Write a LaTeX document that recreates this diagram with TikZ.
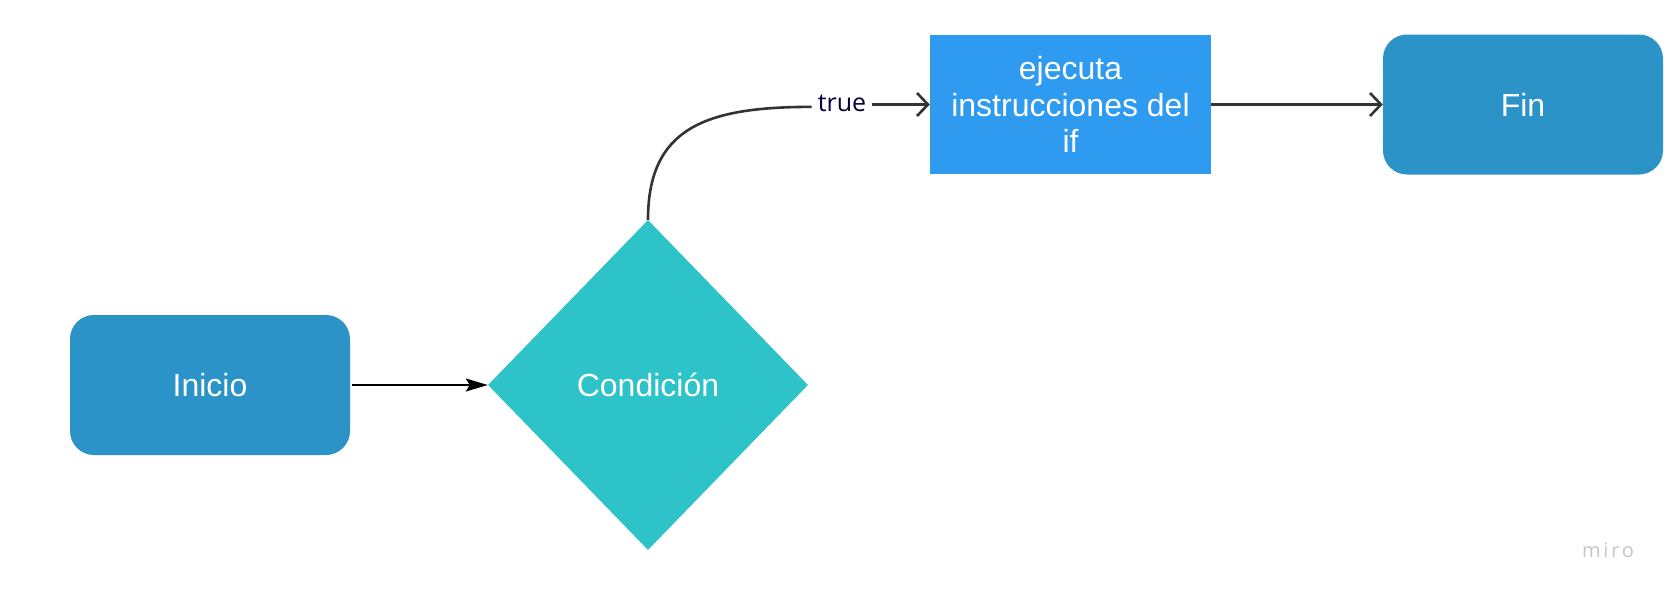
\documentclass[tikz,border=0pt]{standalone}
\usepackage{fontspec}
\setmainfont{Liberation Sans}
\newfontfamily\opensans{Open Sans}
\newfontfamily\mirofont[LetterSpace=14]{Open Sans}
\usetikzlibrary{shapes.geometric,arrows.meta}
\definecolor{termblue}{HTML}{2C93C8}
\definecolor{procblue}{HTML}{2F9BF0}
\definecolor{condteal}{HTML}{2DC3C8}
\definecolor{conngray}{HTML}{333333}
\definecolor{labnavy}{HTML}{050038}
\definecolor{mirogray}{HTML}{C4C4D0}
\tikzset{
  x=1pt, y=-1pt,
  terminal/.style={draw=none, fill=termblue, rounded corners=24pt, minimum width=280pt, minimum height=140pt, inner sep=0pt, text=white, font=\fontsize{32}{36.5}\selectfont},
  process/.style={draw=none, fill=procblue, minimum width=281pt, minimum height=139pt, inner sep=0pt, text=white, align=center, font=\fontsize{32}{36.5}\selectfont},
  decision/.style={draw=none, fill=condteal, shape=diamond, minimum width=320pt, minimum height=330pt, inner sep=0pt, text=white, font=\fontsize{32}{36.5}\selectfont},
  conn/.style={draw=conngray, line width=2.6pt},
  barb/.style={-{Straight Barb[length=11pt,width=23pt,line width=2.6pt]}},
  edgelabel/.style={text=labnavy, font=\opensans\fontsize{25}{28}\selectfont, inner xsep=6pt, inner ysep=2pt, fill=white},
}
\begin{document}
\begin{tikzpicture}
\useasboundingbox (0,0) rectangle (1674,597);
\node[terminal] (inicio) at (210,385) {Inicio};
\node[decision] (cond) at (648,385) {Condición};
\node[process] (ifbox) at (1070.5,104.5) {ejecuta\\instrucciones del\\if};
\node[terminal] (fin) at (1523,104.5) {Fin};
\node[edgelabel, anchor=base] (tl) at (842,111) {true};
\node[text=mirogray, font=\mirofont\fontsize{20}{22}\selectfont, anchor=base] (miro) at (1608,557) {miro};

\draw[black, line width=1.8pt, -{Stealth[length=22pt,width=13pt,inset=4pt]}] ([xshift=2pt]inicio.east) -- (cond.west);
\draw[conn] (cond.north) .. controls +(0,-92) and +(-106,0) .. ([yshift=-4pt]tl.west);
\draw[conn, barb] (tl.east |- ifbox.west) -- (ifbox.west);
\draw[conn, barb] (ifbox.east) -- (ifbox.east -| fin.west);
\end{tikzpicture}
\end{document}
